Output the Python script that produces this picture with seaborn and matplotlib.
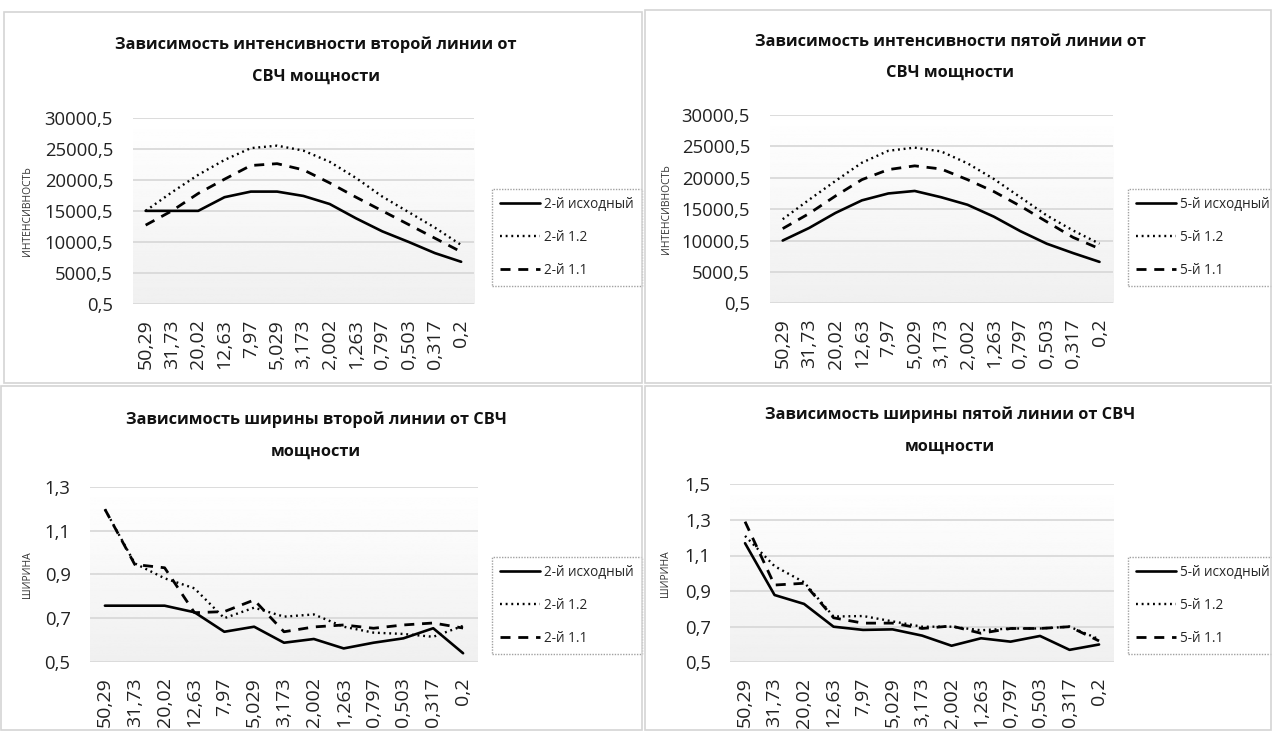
import numpy as np
import pandas as pd
import matplotlib
matplotlib.use("Agg")
import matplotlib.pyplot as plt
import seaborn as sns
from matplotlib import font_manager
from matplotlib.patches import Rectangle
from matplotlib.ticker import FixedLocator, FixedFormatter

# ---------------- data ----------------
categories = ["50,29", "31,73", "20,02", "12,63", "7,97", "5,029", "3,173",
              "2,002", "1,263", "0,797", "0,503", "0,317", "0,2"]

int2_base = [15000, 15000, 15000, 17200, 18100, 18100, 17400, 16100, 13800, 11700, 10000, 8200, 6800]
int2_12 = [15000, 18000, 20800, 23200, 25100, 25500, 24700, 22900, 20300, 17300, 14800, 12300, 9500]
int2_11 = [12700, 15000, 17800, 20100, 22300, 22600, 21600, 19500, 17200, 15000, 12800, 10600, 8400]

int5_base = [10000, 12000, 14400, 16400, 17500, 17900, 16900, 15700, 13800, 11500, 9500, 8000, 6600]
int5_12 = [13400, 16500, 19500, 22400, 24300, 24800, 24200, 22300, 19800, 16900, 14000, 11600, 9500]
int5_11 = [11900, 14300, 17100, 19700, 21300, 21900, 21400, 19700, 17800, 15500, 13000, 10500, 8700]

wid2_base = [0.757, 0.757, 0.757, 0.727, 0.638, 0.661, 0.588, 0.605, 0.562, 0.588, 0.608, 0.654, 0.54]
wid2_12 = [1.197, 0.95, 0.882, 0.836, 0.70, 0.748, 0.707, 0.717, 0.661, 0.634, 0.628, 0.615, 0.665]
wid2_11 = [1.197, 0.945, 0.93, 0.725, 0.73, 0.783, 0.638, 0.66, 0.669, 0.654, 0.669, 0.678, 0.655]

wid5_base = [1.169, 0.878, 0.828, 0.70, 0.682, 0.685, 0.65, 0.593, 0.635, 0.616, 0.648, 0.57, 0.60]
wid5_12 = [1.21, 1.04, 0.95, 0.757, 0.76, 0.73, 0.70, 0.70, 0.68, 0.69, 0.69, 0.70, 0.63]
wid5_11 = [1.29, 0.934, 0.944, 0.75, 0.72, 0.72, 0.69, 0.704, 0.663, 0.69, 0.69, 0.70, 0.62]

int_yticks = [0.5, 5000.5, 10000.5, 15000.5, 20000.5, 25000.5, 30000.5]
int_yticklabels = ["0,5", "5000,5", "10000,5", "15000,5", "20000,5", "25000,5", "30000,5"]
wid2_yticks = [0.5, 0.7, 0.9, 1.1, 1.3]
wid2_yticklabels = ["0,5", "0,7", "0,9", "1,1", "1,3"]
wid5_yticks = [0.5, 0.7, 0.9, 1.1, 1.3, 1.5]
wid5_yticklabels = ["0,5", "0,7", "0,9", "1,1", "1,3", "1,5"]

titles = [
    ("Зависимость интенсивности второй линии от", "СВЧ мощности"),
    ("Зависимость интенсивности пятой линии от", "СВЧ мощности"),
    ("Зависимость ширины второй линии от СВЧ", "мощности"),
    ("Зависимость ширины пятой линии от СВЧ", "мощности"),
]
ylabels = ["ИНТЕНСИВНОСТЬ", "ИНТЕНСИВНОСТЬ", "ШИРИНА", "ШИРИНА"]
series_suffix = ["исходный", "1.2", "1.1"]

# ---------------- style ----------------
sns.set_theme(style="white")
avail = {f.name for f in font_manager.fontManager.ttflist}
FONT = next(f for f in ["Open Sans", "Lato", "DejaVu Sans"] if f in avail)
plt.rcParams["font.family"] = [FONT, "DejaVu Sans"]

W, H = 1272, 731
fig = plt.figure(figsize=(W / 100, H / 100), dpi=100)
fig.patch.set_facecolor("white")


def fx(px):
    return px / W


def fy(py):
    return 1 - py / H


# panel frames (x0, y0, x1, y1) in pixels
frames = [(4, 12, 642, 383), (645, 10, 1271, 383), (1, 386, 642, 730), (645, 386, 1271, 730)]
for (x0, y0, x1, y1) in frames:
    fig.add_artist(Rectangle((fx(x0), fy(y1)), fx(x1 - x0), (y1 - y0) / H,
                             transform=fig.transFigure, fill=False,
                             edgecolor="#d4d4d4", lw=1.2))

panels = [
    dict(rect=(132.5, 117.7, 474.3, 304.0), data=(int2_base, int2_12, int2_11), num="2",
         ylim=(0.5, 30000.5), yt=int_yticks, ytl=int_yticklabels,
         title_xy=(316, 45, 77), ylab_x=33, leg=(492, 189)),
    dict(rect=(769.5, 115.0, 1112.7, 303.3), data=(int5_base, int5_12, int5_11), num="5",
         ylim=(0.5, 30000.5), yt=int_yticks, ytl=int_yticklabels,
         title_xy=(950, 42, 73), ylab_x=672, leg=(1128, 189)),
    dict(rect=(90.0, 486.7, 478.0, 662.0), data=(wid2_base, wid2_12, wid2_11), num="2",
         ylim=(0.5, 1.3), yt=wid2_yticks, ytl=wid2_yticklabels,
         title_xy=(316, 420, 452), ylab_x=33, leg=(492, 557)),
    dict(rect=(730.3, 484.3, 1113.8, 662.3), data=(wid5_base, wid5_12, wid5_11), num="5",
         ylim=(0.5, 1.5), yt=wid5_yticks, ytl=wid5_yticklabels,
         title_xy=(950, 415, 447), ylab_x=671, leg=(1128, 557)),
]

styles = [
    dict(linestyle="-", lw=1.9),
    dict(linestyle=(0, (0.8, 1.6)), lw=1.7),
    dict(linestyle=(0, (3.6, 2.8)), lw=2.0),
]

grad = np.linspace(0.94, 1.0, 256).reshape(-1, 1)
pos = np.arange(len(categories))

for i, p in enumerate(panels):
    x0, y0, x1, y1 = p["rect"]
    ax = fig.add_axes([fx(x0), fy(y1), fx(x1 - x0), (y1 - y0) / H])
    ax.imshow(grad, extent=(0, 1, 0, 1), transform=ax.transAxes, aspect="auto",
              cmap="gray", vmin=0, vmax=1, origin="lower", zorder=0)
    for vals, suf, st in zip(p["data"], series_suffix, styles):
        df = pd.DataFrame({"pos": pos, "val": vals})
        sns.lineplot(data=df, x="pos", y="val", ax=ax, color="black",
                     label=f"{p['num']}-й {suf}", zorder=3, **st)
    ax.set_xlim(-0.5, len(categories) - 0.5)
    ax.set_ylim(*p["ylim"])
    ax.yaxis.set_major_locator(FixedLocator(p["yt"]))
    ax.yaxis.set_major_formatter(FixedFormatter(p["ytl"]))
    ax.set_xticks(pos)
    ax.set_xticklabels(categories, rotation=90)
    ax.grid(axis="y", color="#d9d9d9", lw=1.3)
    ax.grid(axis="x", visible=False)
    ax.set_axisbelow(True)
    for s in ax.spines.values():
        s.set_visible(False)
    ax.tick_params(axis="y", length=0, pad=14, labelsize=13.3, colors="#222222")
    ax.tick_params(axis="x", length=0, pad=11, labelsize=14, colors="#222222")
    ax.set_xlabel("")
    ax.set_ylabel(ylabels[i], fontsize=7.5, color="#333333")
    ax.yaxis.set_label_coords((p["ylab_x"] - x0) / (x1 - x0), 0.5)

    tx, ty1, ty2 = p["title_xy"]
    fig.text(fx(tx), fy(ty1), titles[i][0], ha="center", va="center",
             fontsize=11.8, fontweight="bold", color="#111111")
    fig.text(fx(tx), fy(ty2), titles[i][1], ha="center", va="center",
             fontsize=11.8, fontweight="bold", color="#111111")

    lx, ly = p["leg"]
    leg = ax.legend(loc="upper left", bbox_to_anchor=(fx(lx), fy(ly)),
                    bbox_transform=fig.transFigure, frameon=True, fancybox=False,
                    fontsize=9.8, handlelength=2.9, handletextpad=0.3,
                    labelspacing=1.3, borderpad=0.6, borderaxespad=0)
    fr = leg.get_frame()
    fr.set_edgecolor("#8a8a8a")
    fr.set_linestyle((0, (1, 1)))
    fr.set_linewidth(1.0)
    fr.set_facecolor("white")

fig.savefig("out.png", dpi=100)
